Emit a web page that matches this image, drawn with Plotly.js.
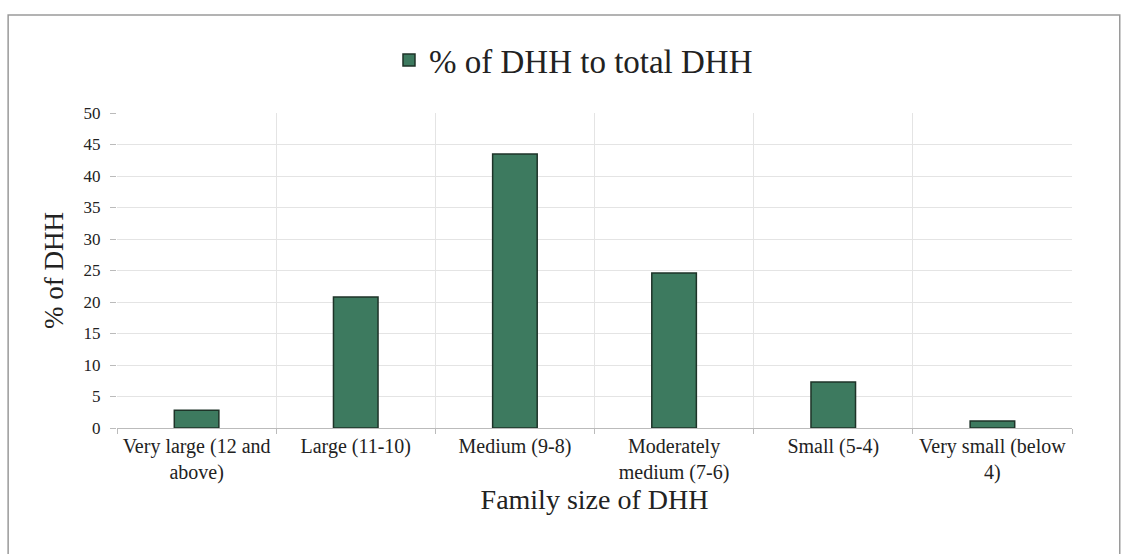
<!DOCTYPE html>
<html>
<head>
<meta charset="utf-8">
<script src="https://cdn.plot.ly/plotly-3.0.1.min.js"></script>
<style>html,body{margin:0;padding:0;background:#fff;}#chart{width:1123px;height:554px;}</style>
</head>
<body>
<div id="chart"></div>
<script>
const categories = [
  "Very large (12 and<br>above)",
  "Large (11-10)",
  "Medium (9-8)",
  "Moderately<br>medium (7-6)",
  "Small (5-4)",
  "Very small (below<br>4)"
];
const percentDHH = [2.8, 20.8, 43.5, 24.6, 7.3, 1.1];
const seriesName = "% of DHH to total DHH";
const yTicks = [0, 5, 10, 15, 20, 25, 30, 35, 40, 45, 50];

const serif = "'Liberation Serif', 'Times New Roman', serif";

const trace = {
  type: "bar",
  x: categories,
  y: percentDHH,
  name: seriesName,
  showlegend: true,
  marker: { color: "#3d7a5f", line: { color: "#1e3328", width: 1.5 } },
  width: 0.28
};

const layout = {
  width: 1123, height: 554,
  margin: { l: 117, r: 51, t: 113, b: 126 },
  paper_bgcolor: "#fff", plot_bgcolor: "#fff",
  font: { family: serif, color: "#222" },
  showlegend: true,
  legend: {
    orientation: "h", x: 0.478, xanchor: "center", y: 1.168, yanchor: "middle",
    font: { family: serif, size: 33, color: "#222" },
    itemwidth: 30, traceorder: "normal"
  },
  xaxis: {
    type: "category",
    tickson: "boundaries",
    tickangle: 0,
    showgrid: true, gridcolor: "#e4e4e4", gridwidth: 1,
    ticks: "outside", ticklen: 5, tickcolor: "#bbb",
    showline: true, linecolor: "#bbb", linewidth: 1,
    tickfont: { family: serif, size: 20, color: "#222" },
    title: { text: "Family size of DHH", font: { family: serif, size: 28, color: "#222" }, standoff: 4 },
    automargin: false
  },
  yaxis: {
    range: [0, 50],
    tickvals: yTicks,
    showgrid: true, gridcolor: "#e4e4e4", gridwidth: 1,
    ticks: "outside", ticklen: 6, tickcolor: "#bbb",
    ticklabelstandoff: 6,
    showline: false, zeroline: false,
    tickfont: { family: serif, size: 17, color: "#222" },
    title: { text: "% of DHH", font: { family: serif, size: 27, color: "#222" }, standoff: 12 },
    automargin: false
  },
  shapes: [
    { type: "rect", xref: "paper", yref: "paper",
      x0: -0.114, x1: 1.050, y0: -0.45, y1: 1.311,
      line: { color: "#9a9a9a", width: 1.5 }, fillcolor: "rgba(0,0,0,0)", layer: "below" }
  ]
};

Plotly.newPlot("chart", [trace], layout, { displayModeBar: false, staticPlot: true });
</script>
</body>
</html>
